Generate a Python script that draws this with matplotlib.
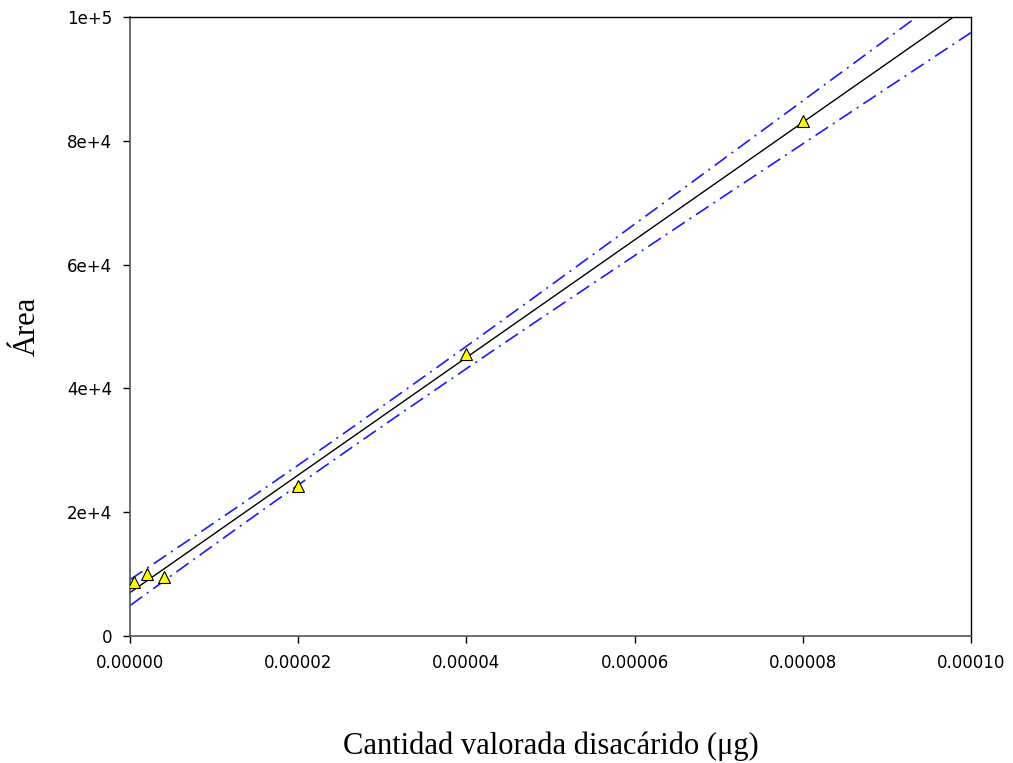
import numpy as np
import matplotlib.pyplot as plt

# Calibration data
cantidad = np.array([0.0000005, 0.000002, 0.000004, 0.00002, 0.00004, 0.00008])
area = np.array([8720, 10000, 9530, 24230, 45500, 83200])

x_ticks = [0.0, 0.00002, 0.00004, 0.00006, 0.00008, 0.00010]
y_ticks = [0, 20000, 40000, 60000, 80000, 100000]
y_tick_labels = ['0', '2e+4', '4e+4', '6e+4', '8e+4', '1e+5']

# Linear regression with 95% confidence band
n = len(cantidad)
slope, intercept = np.polyfit(cantidad, area, 1)
resid = area - (slope * cantidad + intercept)
s = np.sqrt(np.sum(resid ** 2) / (n - 2))
t_val = 2.776  # t(0.975, df=4)
xm = cantidad.mean()
sxx = np.sum((cantidad - xm) ** 2)

xx = np.linspace(0, 0.0001, 200)
yy = slope * xx + intercept
half = t_val * s * np.sqrt(1.0 / n + (xx - xm) ** 2 / sxx)

fig = plt.figure(figsize=(10.13, 7.63), dpi=100)
ax = fig.add_axes([0.1283, 0.1664, 0.8302, 0.8113])

ax.plot(xx, yy, color='black', lw=1.0, zorder=2)
dash = [9, 3.5, 1.2, 3.5]
ax.plot(xx, yy + half, color='#1a1aff', lw=1.2, dashes=dash, zorder=2)
ax.plot(xx, yy - half, color='#1a1aff', lw=1.2, dashes=dash, zorder=2)

ax.plot(cantidad, area, linestyle='none', marker='^', markersize=9,
        markerfacecolor='#ffff00', markeredgecolor='black', markeredgewidth=0.8, zorder=3)

ax.set_xlim(0, 0.0001)
ax.set_ylim(0, 100000)
ax.set_xticks(x_ticks)
ax.set_xticklabels([f'{v:.5f}' for v in x_ticks])
ax.set_yticks(y_ticks)
ax.set_yticklabels(y_tick_labels)

ax.tick_params(direction='out', length=5, width=1, colors='black', labelsize=12, pad=8)
for lab in ax.get_xticklabels() + ax.get_yticklabels():
    lab.set_family('DejaVu Sans')

for side in ['left', 'bottom']:
    ax.spines[side].set_color('#555555')
    ax.spines[side].set_linewidth(1.2)
for side in ['top', 'right']:
    ax.spines[side].set_color('black')
    ax.spines[side].set_linewidth(1.0)

ax.set_xlabel('Cantidad valorada disacárido (μg)', family='Liberation Serif', fontsize=22, labelpad=43)
ax.set_ylabel('Área', family='Liberation Serif', fontsize=22, labelpad=18)

fig.savefig('out.png', dpi=100)
